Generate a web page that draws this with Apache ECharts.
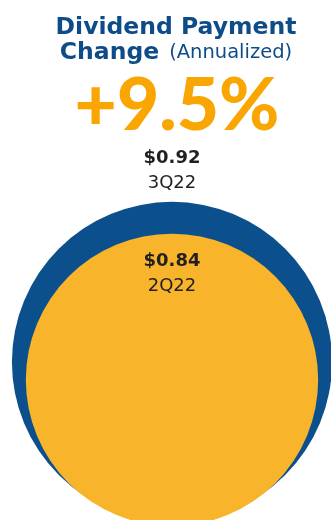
<!DOCTYPE html>
<html><head><meta charset="utf-8">
<script src="https://cdn.jsdelivr.net/npm/echarts@6/dist/echarts.min.js"></script>
<style>html,body{margin:0;padding:0;background:#fff}#c{width:331px;height:520px}</style>
</head><body><div id="c"></div>
<script>
// Data
const periods = ['2Q22', '3Q22'];
const dividends = [0.84, 0.92];
const titleLine1 = 'Dividend Payment';
const titleLine2a = 'Change';
const titleLine2b = '(Annualized)';

// Layout / style (not data)
const W = 331, H = 520;
const SCALE = 348;          // px of diameter per $ of dividend
const CX = 172;
const BOTTOMS = [526, 522]; // bottom edge of each bubble
const COLORS = ['#F8B52B', '#0B4F8C'];
const FONT = 'DejaVu Sans';

const change = ((dividends[1] - dividends[0]) / dividends[0] * 100).toFixed(1);

const order = [1, 0];
const seriesData = order.map(i => {
  const d = dividends[i] * SCALE;
  return {
    name: periods[i],
    value: [CX, BOTTOMS[i] - d / 2, dividends[i]],
    symbolSize: d,
    itemStyle: { color: COLORS[i], opacity: 1 },
    label: i === 1
      ? { position: 'top', distance: 6 }
      : { position: 'insideTop', distance: 15 }
  };
});

const chart = echarts.init(document.getElementById('c'), null, { renderer: 'canvas' });
chart.setOption({
  animation: false,
  title: [{
    left: 171, top: 10, textAlign: 'center',
    text: '{b|' + titleLine1 + '}\n{b|' + titleLine2a + '}{n|' + titleLine2b + '}',
    textStyle: {
      rich: {
        b: { fontFamily: FONT, fontWeight: 'bold', fontSize: 23.5, color: '#0E4C89', lineHeight: 25 },
        n: { fontFamily: FONT, fontWeight: 'normal', fontSize: 19.5, color: '#0E4C89', lineHeight: 25, padding: [1, 0, 0, 10] }
      }
    }
  }, {
    left: 172, top: 65, textAlign: 'center',
    text: '+' + change + '%',
    textStyle: { fontFamily: 'Lato', fontWeight: 900, fontSize: 73, color: '#F9A602' }
  }],
  grid: { left: 0, right: 0, top: 0, bottom: 0 },
  xAxis: { type: 'value', min: 0, max: W, show: false },
  yAxis: { type: 'value', min: 0, max: H, inverse: true, show: false },
  series: [{
    type: 'scatter',
    symbol: 'circle',
    data: seriesData,
    itemStyle: { opacity: 1 },
    label: {
      show: true,
      formatter: p => '{v|$' + p.value[2].toFixed(2) + '}\n{p|' + p.name + '}',
      rich: {
        v: { fontFamily: FONT, fontWeight: 'bold', fontSize: 18, color: '#231F20', lineHeight: 25, align: 'center' },
        p: { fontFamily: FONT, fontWeight: 'normal', fontSize: 18, color: '#231F20', lineHeight: 25, align: 'center' }
      }
    },
    emphasis: { disabled: true }
  }]
});
</script></body></html>
